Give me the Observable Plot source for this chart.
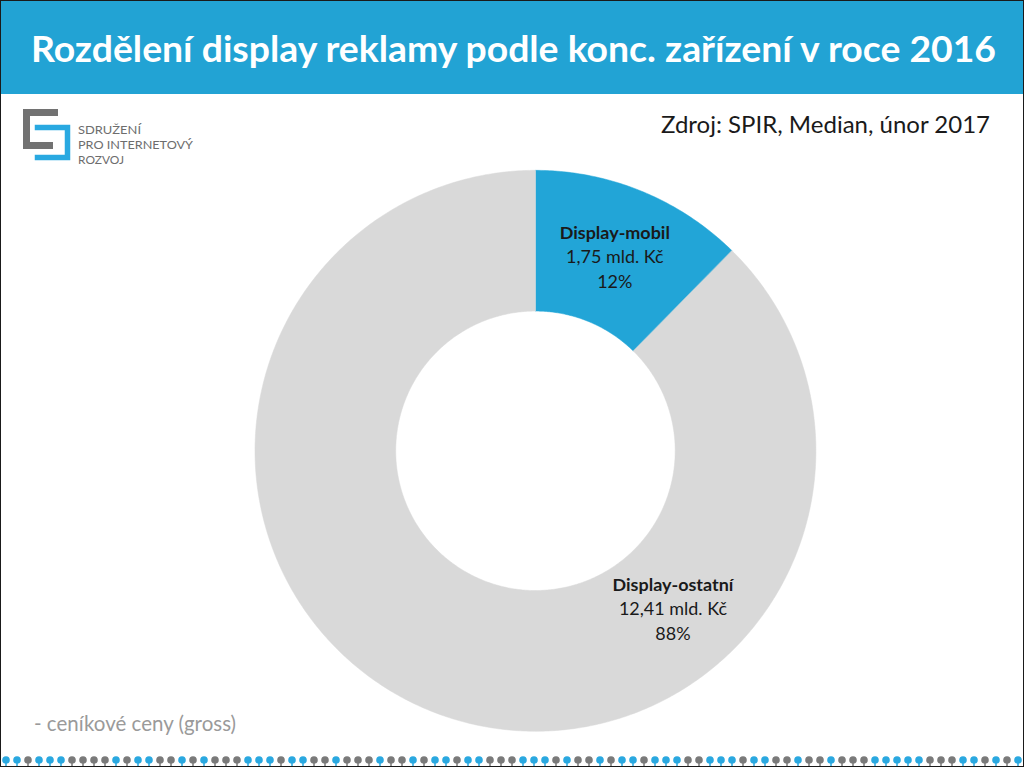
<!DOCTYPE html>
<html>
<head>
<meta charset="utf-8">
<script src="https://cdn.jsdelivr.net/npm/d3@7"></script>
<script src="https://cdn.jsdelivr.net/npm/@observablehq/plot@0.6"></script>
<style>
  html, body { margin: 0; padding: 0; background: #fff; }
  #page { position: relative; width: 1022px; height: 765px; border: 1px solid #1a1a1a; overflow: hidden; background: #fff; font-family: Lato, "Open Sans", sans-serif; }
  #header { position: absolute; left: 0; top: 0; width: 1022px; height: 93px; background: #22a3d4; }
  #chart { position: absolute; left: 0; top: 93px; }
  .overlay { position: absolute; }
  #source { right: 33px; top: 108px; font-size: 24px; color: #1a1a1a; white-space: nowrap; }
  #note { left: 33px; top: 710px; font-size: 20.5px; color: #9a9a9a; white-space: nowrap; }
  #logo { left: 0; top: 95px; }
  #dots { left: 0; top: 748px; }
</style>
</head>
<body>
<div id="page">
  <div id="header">
    <svg width="1022" height="93">
      <text id="title" x="30" y="61" fill="#fff" font-family="Lato, 'Open Sans', sans-serif" font-weight="bold" font-size="37" textLength="965" lengthAdjust="spacingAndGlyphs">Rozdělení display reklamy podle konc. zařízení v roce 2016</text>
    </svg>
  </div>
  <div id="chart"></div>
  <svg id="logo" class="overlay" width="220" height="75">
    <path d="M57,13 H22 V53 H52 V46 H29 V20 H57 Z" fill="#727272"/>
    <path d="M33,28 H70 V65 H33 V58 H63 V35 H33 Z" fill="#29a9e1" stroke="#fff" stroke-width="1.5"/>
    <g font-family="Lato, sans-serif" font-size="12.3" fill="#6d6d6d">
      <text x="77" y="38" textLength="63" lengthAdjust="spacingAndGlyphs">SDRUŽENÍ</text>
      <text x="77" y="53" textLength="115" lengthAdjust="spacingAndGlyphs">PRO INTERNETOVÝ</text>
      <text x="77" y="68" textLength="46" lengthAdjust="spacingAndGlyphs">ROZVOJ</text>
    </g>
  </svg>
  <div id="source" class="overlay">Zdroj: SPIR, Median, únor 2017</div>
  <div id="note" class="overlay">- ceníkové ceny (gross)</div>
  <svg id="dots" class="overlay" width="1022" height="18"></svg>
</div>
<script>
// ---- data ----
const categories = ["Display-mobil", "Display-ostatní"];
const values = [1.75, 12.41];            // mld. Kč
const valueLabels = ["1,75 mld. Kč", "12,41 mld. Kč"];
const shareLabels = ["12%", "88%"];
const colors = ["#22a5d7", "#d9d9d9"];

// ---- geometry settings ----
const W = 1024, H = 660;
const cx = 535, cy = 357;        // donut centre inside the plot svg
const outerR = 281, innerR = 140;
const labelR = 210;
// label angle override (degrees, clockwise from top); null = slice centroid
const labelAngleDeg = [null, 139];

const pie = d3.pie().sort(null).value(d => d.value);
const arcs = pie(categories.map((c, i) => ({cat: c, value: values[i], i})));

// polygon outline of each ring segment, in data units (1 unit = 1 px)
const ringPts = [];
for (const a of arcs) {
  const n = Math.max(8, Math.ceil((a.endAngle - a.startAngle) / 0.01));
  for (let k = 0; k <= n; k++) {
    const t = a.startAngle + (a.endAngle - a.startAngle) * k / n;
    ringPts.push({cat: a.data.cat, x: outerR * Math.sin(t), y: outerR * Math.cos(t)});
  }
  for (let k = n; k >= 0; k--) {
    const t = a.startAngle + (a.endAngle - a.startAngle) * k / n;
    ringPts.push({cat: a.data.cat, x: innerR * Math.sin(t), y: innerR * Math.cos(t)});
  }
}

const labels = arcs.map((a, i) => {
  const ang = labelAngleDeg[i] == null ? (a.startAngle + a.endAngle) / 2 : labelAngleDeg[i] * Math.PI / 180;
  return {cat: a.data.cat, value: valueLabels[i], share: shareLabels[i],
          x: labelR * Math.sin(ang), y: labelR * Math.cos(ang)};
});

const font = "Lato, 'Open Sans', sans-serif";
const plot = Plot.plot({
  width: W, height: H,
  margin: 0,
  style: {background: "transparent", fontFamily: font},
  x: {domain: [-cx, W - cx], axis: null},
  y: {domain: [-(H - cy), cy], axis: null},
  color: {domain: categories, range: colors},
  marks: [
    Plot.line(ringPts, {x: "x", y: "y", z: "cat", fill: "cat", stroke: "cat", strokeWidth: 0.5, curve: "linear-closed"}),
    Plot.text(labels, {x: "x", y: "y", text: "cat", dy: -24, fontWeight: "bold", fontSize: 18, fill: "#1a1a1a"}),
    Plot.text(labels, {x: "x", y: "y", text: "value", dy: 0, fontSize: 18, fill: "#1a1a1a"}),
    Plot.text(labels, {x: "x", y: "y", text: "share", dy: 25, fontSize: 18, fill: "#1a1a1a"})
  ]
});
document.getElementById("chart").appendChild(plot);

// decorative dotted footer
const pattern = "bbgbbbggggbgbbggbgbgggbbbgbbggbgggbggbgbbgbbgggbbbgbggbgbbgbbbggbbbgbbggbggbgggbbbbbgggbbgbg";
const dsvg = d3.select("#dots");
for (let i = 0; i < 93; i++) {
  const x = 5 + i * 11;
  const c = pattern[i % pattern.length] === "b" ? "#2aa8e0" : "#7a7a7a";
  dsvg.append("line").attr("x1", x).attr("x2", x).attr("y1", 12).attr("y2", 18).attr("stroke", c).attr("stroke-width", 1.5);
  dsvg.append("circle").attr("cx", x).attr("cy", 11).attr("r", 3.8).attr("fill", c);
}
</script>
</body>
</html>
